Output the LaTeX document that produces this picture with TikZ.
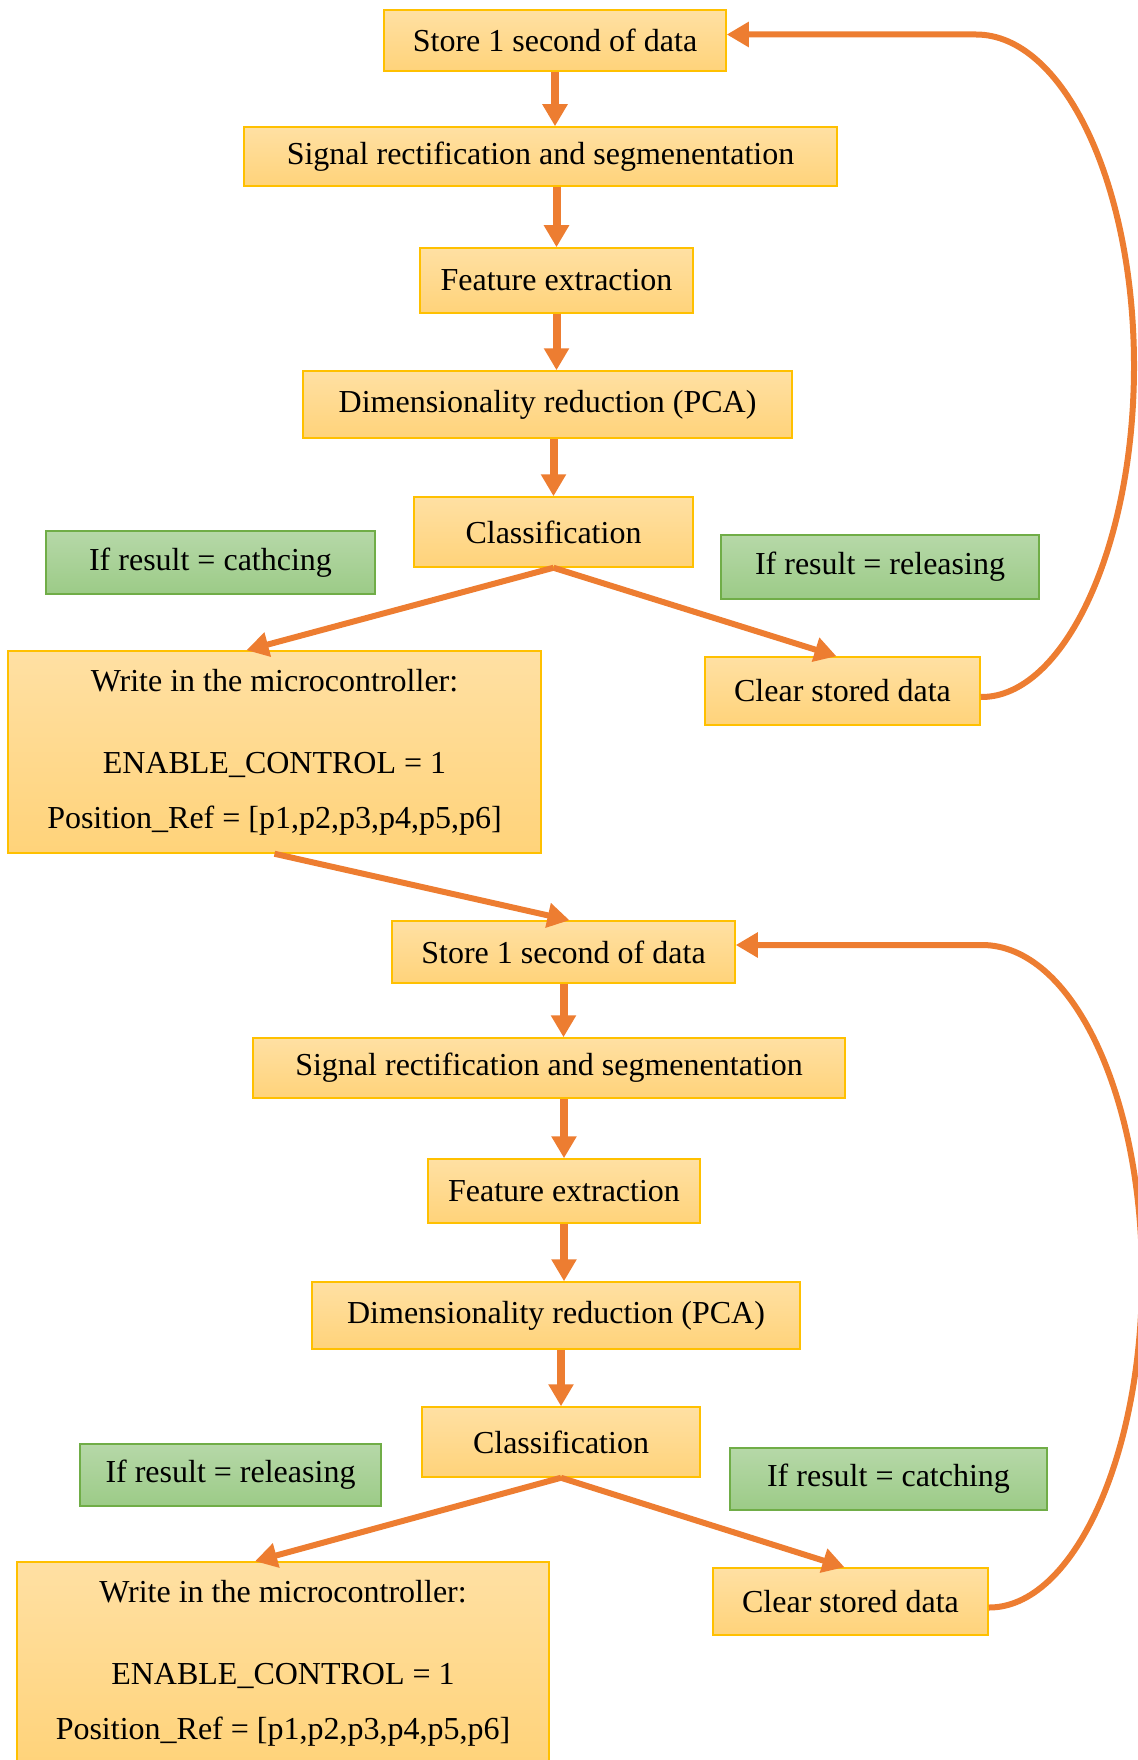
\documentclass[tikz,border=0pt]{standalone}
\usepackage{fontspec}
\setmainfont{Liberation Serif}
\usetikzlibrary{arrows.meta}
\definecolor{boxtop}{HTML}{FFE0A3}
\definecolor{boxbot}{HTML}{FFD37A}
\definecolor{boxline}{HTML}{FFC000}
\definecolor{condtop}{HTML}{B6D8A8}
\definecolor{condbot}{HTML}{9CCB87}
\definecolor{condline}{HTML}{70AD47}
\definecolor{flow}{HTML}{ED7D31}
\tikzset{
  box/.style={draw=boxline, line width=0.75pt, top color=boxtop, bottom color=boxbot,
    inner sep=0pt, align=center, font=\fontsize{16}{27.5}\selectfont},
  cond/.style={draw=condline, line width=0.75pt, top color=condtop, bottom color=condbot,
    inner sep=0pt, align=center, font=\fontsize{16}{27.5}\selectfont},
  varrow/.style={draw=flow, line width=4pt, -{Triangle[width=12pt,length=11pt]}},
  darrow/.style={draw=flow, line width=3pt, -{Triangle[width=12pt,length=11pt]}},
}
\begin{document}
\begin{tikzpicture}[x=0.5pt, y=-0.5pt]
    \useasboundingbox (0,0) rectangle (1137,1760);
    % first pass
    \node[box, minimum width=171pt, minimum height=30.5pt] at (555,40.5) (store1) {Store 1 second of data};
    \node[box, minimum width=296.5pt, minimum height=29.5pt] at (540.5,156.5) (rect1) {Signal rectification and segmenentation};
    \node[box, minimum width=136.5pt, minimum height=32.5pt] at (556.5,280.5) (feat1) {Feature extraction};
    \node[box, minimum width=244.5pt, minimum height=33.5pt] at (547.5,404.5) (pca1) {Dimensionality reduction (PCA)};
    \node[box, minimum width=139.5pt, minimum height=35pt] at (553.5,532) (class1) {Classification};
    \node[cond, minimum width=164.5pt, minimum height=31.5pt] at (210.5,562.5) (yes1) {If result = cathcing};
    \node[cond, minimum width=159pt, minimum height=32pt] at (880,567) (no1) {If result = releasing};
    \node[box, minimum width=137.5pt, minimum height=34pt] at (842.5,691) (clear1) {Clear stored data};
    \node[box, minimum width=266.5pt, minimum height=101pt] at (274.5,752) (write1) {Write in the microcontroller:\\[13.5pt]ENABLE\_CONTROL = 1\\Position\_Ref = [p1,p2,p3,p4,p5,p6]};
    % second pass
    \node[box, minimum width=171.5pt, minimum height=31pt] at (563.5,952) (store2) {Store 1 second of data};
    \node[box, minimum width=296pt, minimum height=30pt] at (549,1068) (rect2) {Signal rectification and segmenentation};
    \node[box, minimum width=136pt, minimum height=32pt] at (564,1191) (feat2) {Feature extraction};
    \node[box, minimum width=244pt, minimum height=33.5pt] at (556,1315.5) (pca2) {Dimensionality reduction (PCA)};
    \node[box, minimum width=139pt, minimum height=35pt] at (561,1442) (class2) {Classification};
    \node[cond, minimum width=150.5pt, minimum height=31pt] at (230.5,1475) (no2) {If result = releasing};
    \node[cond, minimum width=158.5pt, minimum height=31pt] at (888.5,1479) (yes2) {If result = catching};
    \node[box, minimum width=137.5pt, minimum height=33.5pt] at (850.5,1601.5) (clear2) {Clear stored data};
    \node[box, minimum width=266pt, minimum height=101pt] at (283,1663) (write2) {Write in the microcontroller:\\[13.5pt]ENABLE\_CONTROL = 1\\Position\_Ref = [p1,p2,p3,p4,p5,p6]};
    % arrows
    \draw[varrow] (store1.south) -- (store1.south |- rect1.north);
    \draw[varrow] (rect1.south -| feat1) -- (feat1.north);
    \draw[varrow] (feat1.south) -- (feat1.south |- pca1.north);
    \draw[varrow] (pca1.south -| class1) -- (class1.north);
    \draw[darrow] (class1.south) -- ([xshift=-14pt]write1.north);
    \draw[darrow] (class1.south) -- ([xshift=-3pt]clear1.north);
    \draw[darrow] ([yshift=-3pt]clear1.east) .. controls (1063,698) and (1134,549) .. (1134,366)
      .. controls (1134,183) and (1063,34.5) .. (976,34.5) -- ([yshift=3pt]store1.east);
    \draw[darrow] (write1.south) -- ([xshift=3pt]store2.north);
    \draw[varrow] (store2.south) -- (store2.south |- rect2.north);
    \draw[varrow] (rect2.south -| feat2) -- (feat2.north);
    \draw[varrow] (feat2.south) -- (feat2.south |- pca2.north);
    \draw[varrow] (pca2.south -| class2) -- (class2.north);
    \draw[darrow] (class2.south) -- ([xshift=-14pt]write2.north);
    \draw[darrow] (class2.south) -- ([xshift=-3pt]clear2.north);
    \draw[darrow] ([yshift=-3pt]clear2.east) .. controls (1072,1608) and (1142,1459) .. (1142,1276.5)
      .. controls (1142,1094) and (1072,945) .. (982,945) -- ([yshift=3.5pt]store2.east);
\end{tikzpicture}
\end{document}
